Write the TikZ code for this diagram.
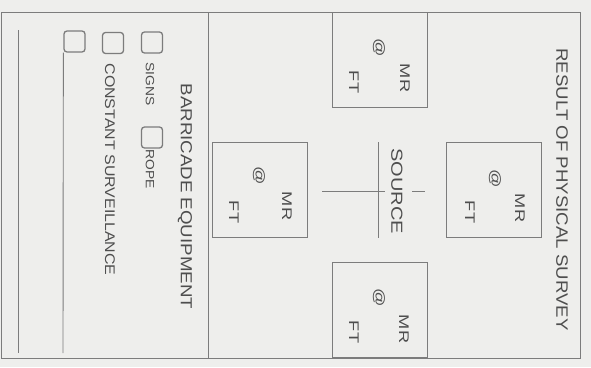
\documentclass[tikz,border=0pt]{standalone}
\usepackage{fontspec}
\setmainfont{Liberation Sans}
\usetikzlibrary{shapes,positioning}

\definecolor{scanbg}{HTML}{EEEEEC}
\definecolor{scanline}{HTML}{7C7C7C}
\definecolor{scantext}{HTML}{4E4E4E}

\tikzset{
  mrbox/.style={draw=scanline,line width=0.9pt,minimum width=95pt,minimum height=95pt,inner sep=0pt},
  chkbox/.style={draw=scanline,line width=1.3pt,rounded corners=3pt,minimum width=21pt,minimum height=21pt,inner sep=0pt},
  vlabel/.style={rotate=-90,inner sep=0pt,text=scantext},
  bigtitle/.style={vlabel,anchor=west,xscale=1.13,font=\fontsize{16.5}{18}\selectfont},
  midtitle/.style={vlabel,anchor=west,xscale=1.17,font=\fontsize{16}{18}\selectfont},
  optlabel/.style={vlabel,anchor=west,xscale=1.15,font=\fontsize{12}{14}\selectfont},
  boxlabel/.style={vlabel,xscale=1.3,font=\fontsize{14}{16}\selectfont},
}

\begin{document}
\begin{tikzpicture}[x=1pt,y=-1pt,line width=0.9pt]
  \fill[scanbg] (0,0) rectangle (591,367);
  \useasboundingbox (0,0) rectangle (591,367);

  % form frame
  \draw[scanline] (1,12) rectangle (580,358);
  \draw[scanline] (208,12) -- (208,358);

  % survey side
  \node[bigtitle] (title) at (562,48) {RESULT OF PHYSICAL SURVEY};

  \node[mrbox] (nbox) at (380,59.5) {};
  \node[mrbox] (ebox) at (494,189.5) {};
  \node[mrbox] (wbox) at (260,189.5) {};
  \node[mrbox] (sbox) at (379.5,310) {};

  \node[boxlabel] (nmr) at (405,78) {MR};
  \node[boxlabel] (nat) at (379,48) {@};
  \node[boxlabel] (nft) at (354,82) {FT};
  \node[boxlabel] (emr) at (520,208) {MR};
  \node[boxlabel] (eat) at (495,179) {@};
  \node[boxlabel] (eft) at (470,212) {FT};
  \node[boxlabel] (wmr) at (287,206) {MR};
  \node[boxlabel] (wat) at (259,176) {@};
  \node[boxlabel] (wft) at (234,212) {FT};
  \node[boxlabel] (smr) at (404,329) {MR};
  \node[boxlabel] (sat) at (379,298) {@};
  \node[boxlabel] (sft) at (354,332) {FT};

  % source mark
  \coordinate (srctop) at (378,142);
  \coordinate (srcbot) at (378,238);
  \coordinate (srcleft) at (322,191);
  \coordinate (srcmid) at (385,191);
  \coordinate (tickin) at (412,191);
  \coordinate (tickout) at (425,191);
  \draw[scanline] (srctop) -- (srcbot);
  \draw[scanline] (srcleft) -- (srcmid);
  \draw[scanline] (tickin) -- (tickout);
  \node[vlabel,anchor=west,xscale=1.25,font=\fontsize{16}{18}\selectfont] (src) at (397,148) {SOURCE};

  % barricade side
  \node[midtitle] (barr) at (185,83) {BARRICADE EQUIPMENT};
  \node[chkbox] (signbox) at (152,42.5) {};
  \node[chkbox] (ropebox) at (152,137.5) {};
  \node[chkbox] (survbox) at (113,43) {};
  \node[chkbox] (otherbox) at (74.5,41.5) {};
  \node[optlabel] (signs) at (150,62) {SIGNS};
  \node[optlabel] (rope) at (150,149) {ROPE};
  \node[optlabel,xscale=0.99,font=\fontsize{14}{16}\selectfont] (surv) at (110,63) {CONSTANT SURVEILLANCE};

  \draw[scanline] (otherbox.south west) -- (63,353);
  \draw[scanline] (18,30) -- (18,353);
\end{tikzpicture}
\end{document}
